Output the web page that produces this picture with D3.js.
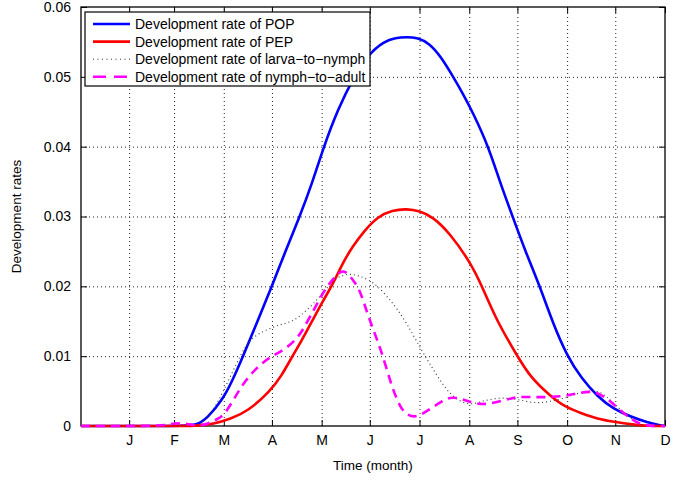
<!DOCTYPE html>
<html>
<head>
<meta charset="utf-8">
<script src="https://cdn.jsdelivr.net/npm/d3@7"></script>
<style>
  body { margin: 0; background: #fff; }
  text { font-family: "Liberation Sans", Arial, Helvetica, sans-serif; fill: #000; }
</style>
</head>
<body>
<div id="chart"></div>
<script>
// month ticks (day of year at end of each month)
var monthDays = [31, 59, 90, 120, 151, 181, 212, 243, 273, 304, 334, 365];
var monthLabels = ["J", "F", "M", "A", "M", "J", "J", "A", "S", "O", "N", "D"];
var yTicks = [0, 0.01, 0.02, 0.03, 0.04, 0.05, 0.06];

// development rate of POP
var popDays = [1, 60, 73, 80, 89, 95, 102, 111, 120, 128, 137, 145, 152, 161, 171, 180, 190, 197, 204, 211, 218, 225, 233, 239, 245, 255, 262, 270, 278, 287, 295, 304, 313, 323, 333, 344, 354, 362, 365];
var popRate = [0, 0, 0, 0.0012, 0.0037, 0.0063, 0.0100, 0.0150, 0.0200, 0.0248, 0.0298, 0.0347, 0.0398, 0.0453, 0.0500, 0.0532, 0.0551, 0.0556, 0.0557, 0.0556, 0.0548, 0.0530, 0.0500, 0.0476, 0.0450, 0.0400, 0.0350, 0.0300, 0.0250, 0.0200, 0.0148, 0.0100, 0.0068, 0.0042, 0.0024, 0.0013, 0.0005, 0.0001, 0];

// development rate of PEP
var pepDays = [1, 60, 72, 84, 94, 105, 119, 126, 132, 138, 145, 152, 158, 164, 170, 177, 186, 195, 204, 212, 220, 231, 244, 251, 260, 273, 281, 294, 303, 313, 323, 333, 345, 355, 365];
var pepRate = [0, 0, 0, 0.0003, 0.0010, 0.0021, 0.0050, 0.0072, 0.0097, 0.0120, 0.0150, 0.0180, 0.0203, 0.0233, 0.0256, 0.0278, 0.0300, 0.0309, 0.0311, 0.0308, 0.0300, 0.0276, 0.0233, 0.0200, 0.0151, 0.0100, 0.0070, 0.0042, 0.0027, 0.0018, 0.0010, 0.0006, 0.0002, 0, 0];

// development rate of larva-to-nymph
var larvaDays = [1, 70, 75, 83, 90, 97, 104, 111, 121, 128, 134, 142, 150, 158, 164, 169, 174, 180, 186, 192, 198, 204, 210, 217, 223, 229, 236, 244, 250, 254, 261, 265, 270, 275, 281, 287, 293, 300, 309, 315, 321, 326, 331, 336, 340, 346, 352, 365];
var larvaRate = [0, 0, 0, 0.0020, 0.0051, 0.0085, 0.0118, 0.0132, 0.0142, 0.0147, 0.0151, 0.0166, 0.0185, 0.0209, 0.0216, 0.0218, 0.0215, 0.0210, 0.0200, 0.0185, 0.0168, 0.0147, 0.0122, 0.0094, 0.0072, 0.0051, 0.0036, 0.0030, 0.0035, 0.0037, 0.0040, 0.0040, 0.0039, 0.0037, 0.0034, 0.0033, 0.0035, 0.0038, 0.0046, 0.0049, 0.0051, 0.0047, 0.0037, 0.0026, 0.0018, 0.0006, 0, 0];

// development rate of nymph-to-adult
var nymphDays = [1, 50, 55, 60, 65, 70, 74, 80, 86, 90, 96, 102, 111, 119, 127, 136, 141, 146, 150, 154, 159, 163, 166, 169, 172, 175, 181, 188, 194, 200, 205, 209, 213, 219, 225, 231, 238, 244, 250, 256, 263, 270, 275, 287, 300, 309, 316, 320, 325, 329, 335, 342, 349, 355, 365];
var nymphRate = [0, 0, 0.0002, 0.0004, 0.0004, 0.0002, 0, 0.0003, 0.0010, 0.0015, 0.0037, 0.0061, 0.0085, 0.0099, 0.0108, 0.0125, 0.0145, 0.0166, 0.0183, 0.0199, 0.0213, 0.0222, 0.0221, 0.0214, 0.0204, 0.0194, 0.0150, 0.0110, 0.0061, 0.0025, 0.0015, 0.0013, 0.0016, 0.0025, 0.0034, 0.0042, 0.0039, 0.0034, 0.0031, 0.0032, 0.0036, 0.0040, 0.0042, 0.0041, 0.0042, 0.0046, 0.0049, 0.0049, 0.0045, 0.0039, 0.0027, 0.0013, 0.0003, 0, 0];

var seriesNames = ["Development rate of POP", "Development rate of PEP",
                   "Development rate of larva\u2212to\u2212nymph", "Development rate of nymph\u2212to\u2212adult"];

var W = 689, H = 481;
var margin = {top: 7, right: 24, bottom: 55, left: 81},
    width = W - margin.left - margin.right,
    height = H - margin.top - margin.bottom;

var svg = d3.select("#chart")
  .append("svg")
    .attr("width", W)
    .attr("height", H)
  .append("g")
    .attr("transform", "translate(" + margin.left + "," + margin.top + ")");

var x = d3.scaleLinear().domain([1, 365]).range([0, width]);
var y = d3.scaleLinear().domain([0, 0.06]).range([height, 0]);

// dotted grid
svg.append("g")
  .attr("class", "grid")
  .attr("transform", "translate(0," + height + ")")
  .call(d3.axisBottom(x).tickValues(monthDays.slice(0, -1)).tickSize(-height).tickFormat(""))
  .call(g => g.select(".domain").remove());
svg.append("g")
  .attr("class", "grid")
  .call(d3.axisLeft(y).tickValues(yTicks.slice(1, -1)).tickSize(-width).tickFormat(""))
  .call(g => g.select(".domain").remove());
svg.selectAll(".grid line")
  .attr("stroke", "#222")
  .attr("stroke-width", 1)
  .attr("stroke-dasharray", "1,3");

// axes, ticks pointing inward
svg.append("g")
  .attr("transform", "translate(0," + height + ")")
  .call(d3.axisBottom(x).tickValues(monthDays).tickSize(-6).tickPadding(9)
    .tickFormat(function(d, i) { return monthLabels[i]; }));
svg.append("g")
  .call(d3.axisTop(x).tickValues(monthDays).tickSize(-6).tickFormat(""));
svg.append("g")
  .call(d3.axisLeft(y).tickValues(yTicks).tickSize(-6).tickPadding(10)
    .tickFormat(function(d) { return d === 0 ? "0" : d3.format(".2f")(d); }));
svg.append("g")
  .attr("transform", "translate(" + width + ",0)")
  .call(d3.axisRight(y).tickValues(yTicks).tickSize(-6).tickFormat(""));
svg.selectAll(".domain").remove();
svg.selectAll(".tick text").attr("font-size", "14px").attr("font-family", null);
svg.selectAll(".tick line").filter(function() { return !this.parentNode.parentNode.classList.contains("grid"); })
  .attr("stroke", "#000");

// axes box
svg.append("rect")
  .attr("x", 0).attr("y", 0)
  .attr("width", width).attr("height", height)
  .attr("fill", "none").attr("stroke", "#000").attr("stroke-width", 1.3);

// curves, in plotting order
var line = d3.line()
  .x(function(d) { return x(d[0]); })
  .y(function(d) { return y(d[1]); })
  .curve(d3.curveBasis);

function pairs(days, vals) { return days.map(function(d, i) { return [d, vals[i]]; }); }

svg.append("path").datum(pairs(popDays, popRate))
  .attr("d", line).attr("fill", "none")
  .attr("stroke", "#0000ff").attr("stroke-width", 2.6);
svg.append("path").datum(pairs(pepDays, pepRate))
  .attr("d", line).attr("fill", "none")
  .attr("stroke", "#ff0000").attr("stroke-width", 2.6);
svg.append("path").datum(pairs(larvaDays, larvaRate))
  .attr("d", line).attr("fill", "none")
  .attr("stroke", "#333").attr("stroke-width", 1.1).attr("stroke-dasharray", "1,3");
svg.append("path").datum(pairs(nymphDays, nymphRate))
  .attr("d", line).attr("fill", "none")
  .attr("stroke", "#ff00ff").attr("stroke-width", 2.6).attr("stroke-dasharray", "9,6");

// axis labels
svg.append("text")
  .attr("x", width / 2)
  .attr("y", height + 44)
  .attr("font-size", "13.5px")
  .attr("text-anchor", "middle")
  .text("Time (month)");
svg.append("text")
  .attr("transform", "rotate(-90)")
  .attr("x", -height / 2)
  .attr("y", -60)
  .attr("font-size", "13.5px")
  .attr("text-anchor", "middle")
  .text("Development rates");

// legend
var legend = svg.append("g").attr("transform", "translate(4,5)");
legend.append("rect")
  .attr("width", 285).attr("height", 74)
  .attr("fill", "#fff").attr("stroke", "#000").attr("stroke-width", 1.2);
var legStyles = [
  {stroke: "#0000ff", width: 2.6, dash: null},
  {stroke: "#ff0000", width: 2.6, dash: null},
  {stroke: "#333", width: 1.1, dash: "1,3.5"},
  {stroke: "#ff00ff", width: 2.6, dash: "13,8"}
];
seriesNames.forEach(function(name, i) {
  var yy = 12 + i * 17.6;
  legend.append("line")
    .attr("x1", 8).attr("x2", 45).attr("y1", yy).attr("y2", yy)
    .attr("stroke", legStyles[i].stroke)
    .attr("stroke-width", legStyles[i].width)
    .attr("stroke-dasharray", legStyles[i].dash);
  legend.append("text")
    .attr("x", 50).attr("y", yy)
    .attr("dy", "0.35em")
    .attr("font-size", "14px")
    .text(name);
});
</script>
</body>
</html>
